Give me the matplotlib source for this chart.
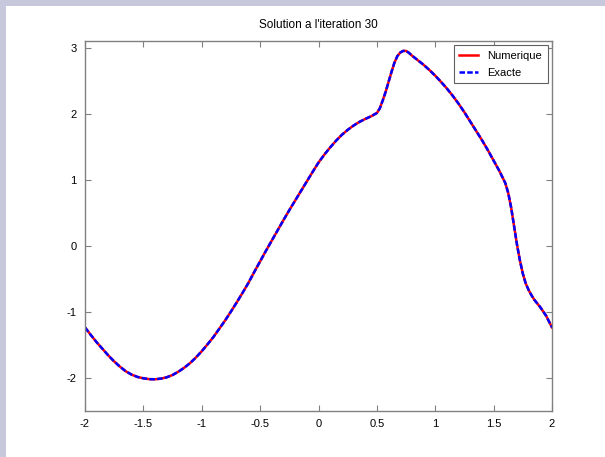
import numpy as np
import matplotlib
matplotlib.use('Agg')
import matplotlib.pyplot as plt
from matplotlib.patches import Rectangle

""" Donnees lues sur la figure """
x = [-2.00, -1.95, -1.90, -1.85, -1.80, -1.75, -1.70, -1.65, -1.60, -1.55,
     -1.50, -1.45, -1.40, -1.35, -1.30, -1.25, -1.20, -1.15, -1.10, -1.05,
     -1.00, -0.95, -0.90, -0.85, -0.80, -0.75, -0.70, -0.65, -0.60, -0.55,
     -0.50, -0.45, -0.40, -0.35, -0.30, -0.25, -0.20, -0.15, -0.10, -0.05,
     0.00, 0.05, 0.10, 0.15, 0.20, 0.25, 0.30, 0.35, 0.40, 0.45,
     0.50, 0.525, 0.55, 0.575, 0.60, 0.625, 0.65, 0.675, 0.70, 0.725,
     0.75, 0.775, 0.80, 0.85, 0.90, 0.95, 1.00, 1.05, 1.10, 1.15,
     1.20, 1.25, 1.30, 1.35, 1.40, 1.45, 1.50, 1.55, 1.60, 1.625,
     1.65, 1.675, 1.70, 1.725, 1.75, 1.775, 1.80, 1.825, 1.85, 1.90,
     1.95, 2.00]
y_numerique = [-1.235, -1.35, -1.46, -1.56, -1.66, -1.75, -1.83, -1.90, -1.95, -1.985,
               -2.005, -2.018, -2.02, -2.01, -1.99, -1.955, -1.905, -1.845, -1.775, -1.69,
               -1.595, -1.49, -1.38, -1.255, -1.13, -0.995, -0.855, -0.71, -0.56, -0.395,
               -0.235, -0.075, 0.08, 0.235, 0.39, 0.54, 0.685, 0.83, 0.975, 1.12,
               1.26, 1.38, 1.49, 1.59, 1.68, 1.755, 1.82, 1.875, 1.92, 1.96,
               2.01, 2.08, 2.20, 2.33, 2.48, 2.63, 2.77, 2.87, 2.925, 2.95,
               2.95, 2.92, 2.88, 2.81, 2.74, 2.66, 2.575, 2.48, 2.38, 2.27,
               2.15, 2.02, 1.88, 1.74, 1.60, 1.45, 1.29, 1.13, 0.95, 0.80,
               0.58, 0.30, 0.02, -0.22, -0.42, -0.57, -0.67, -0.75, -0.82, -0.93,
               -1.06, -1.235]
# la solution exacte se confond avec la solution numerique
y_exacte = list(y_numerique)

xticks = [-2, -1.5, -1, -0.5, 0, 0.5, 1, 1.5, 2]
xtick_labels = ['-2', '-1.5', '-1', '-0.5', '0', '0.5', '1', '1.5', '2']
yticks = [-2, -1, 0, 1, 2, 3]
ytick_labels = ['-2', '-1', '0', '1', '2', '3']

plt.rcParams['font.family'] = ['Liberation Sans', 'DejaVu Sans']

fig = plt.figure(figsize=(6.05, 4.57), dpi=100)
fig.patch.set_facecolor('white')
# bandes du fond de diapo
fig.patches.append(Rectangle((0, 1 - 6 / 457), 1, 6 / 457, transform=fig.transFigure,
                             facecolor='#c8c8dc', edgecolor='none'))
fig.patches.append(Rectangle((0, 0), 6 / 605, 1, transform=fig.transFigure,
                             facecolor='#c8c8dc', edgecolor='none'))

ax = fig.add_axes([85 / 605, 1 - 411 / 457, (552 - 85) / 605, (411 - 41) / 457])
ax.plot(x, y_numerique, color='red', lw=1.8, label='Numerique')
ax.plot(x, y_exacte, color='blue', lw=1.8, ls=(0, (2.2, 0.9)), label='Exacte')

ax.set_xlim(-2, 2)
ax.set_ylim(-2.5, 3.1)
ax.set_xticks(xticks)
ax.set_xticklabels(xtick_labels)
ax.set_yticks(yticks)
ax.set_yticklabels(ytick_labels)
ax.tick_params(direction='in', length=4, width=0.8, color='#808080', labelsize=8,
               top=True, right=True, pad=6)
for s in ax.spines.values():
    s.set_color('#808080')
    s.set_linewidth(1)

ax.set_title("Solution a l'iteration 30", fontsize=8.5, pad=9)
leg = ax.legend(loc='upper right', fontsize=8, fancybox=False, framealpha=1,
                handlelength=1.7, borderaxespad=0.4, borderpad=0.5, labelspacing=0.6)
leg.get_frame().set_edgecolor('#606060')
leg.get_frame().set_linewidth(0.8)

fig.savefig('out.png', dpi=100)
